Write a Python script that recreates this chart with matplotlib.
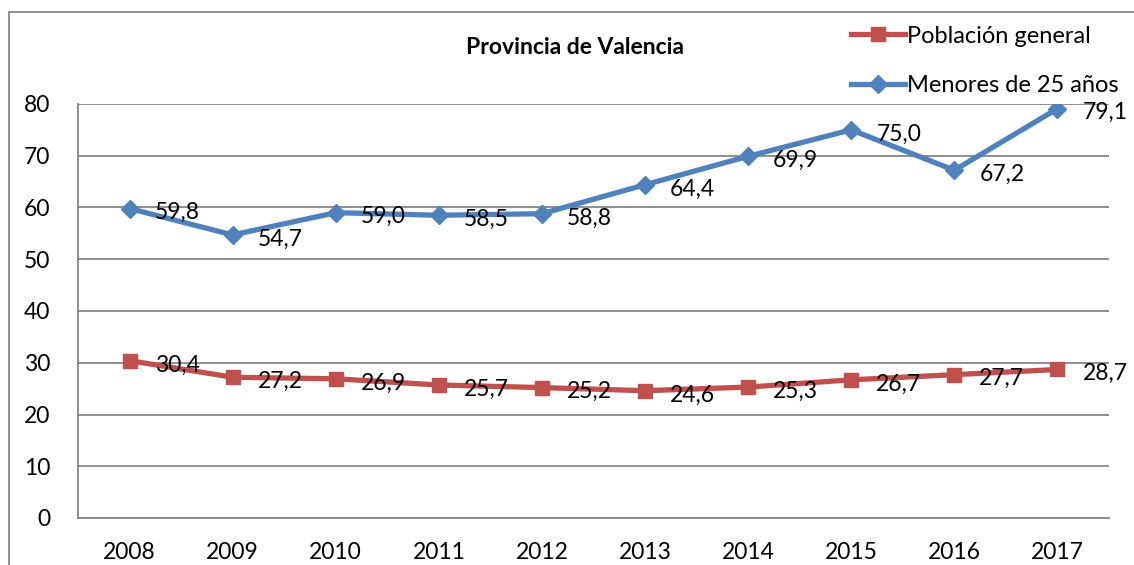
import matplotlib.pyplot as plt
import numpy as np

# Años
years = ["2008", "2009", "2010", "2011", "2012", "2013", "2014", "2015", "2016", "2017"]

# Series
poblacion_general = [30.4, 27.2, 26.9, 25.7, 25.2, 24.6, 25.3, 26.7, 27.7, 28.7]
menores_25 = [59.8, 54.7, 59.0, 58.5, 58.8, 64.4, 69.9, 75.0, 67.2, 79.1]

plt.rcParams['font.family'] = ['Lato', 'DejaVu Sans']

fig = plt.figure(figsize=(11.34, 5.65), dpi=100)
ax = fig.add_axes([78 / 1134, 1 - 518 / 565, (1109 - 78) / 1134, (518 - 104) / 565])

x = np.arange(len(years))
rojo = '#C0504D'
azul = '#4F81BD'

l1, = ax.plot(x, poblacion_general, color=rojo, lw=3.8, marker='s', ms=10,
              label='Población general', zorder=3)
l2, = ax.plot(x, menores_25, color=azul, lw=3.8, marker='D', ms=9,
              label='Menores de 25 años', zorder=3)

# Etiquetas de datos (coma decimal)
for serie in (poblacion_general, menores_25):
    for xi, v in zip(x, serie):
        ax.annotate(f"{v:.1f}".replace('.', ','), (xi, v), xytext=(18, -3),
                    textcoords='offset points', va='center', ha='left', fontsize=16.5)

ax.set_xlim(-0.5, len(years) - 0.5)
ax.set_ylim(0, 80)
ax.set_yticks(np.arange(0, 81, 10))
ax.set_xticks(x)
ax.set_xticklabels(years)
ax.tick_params(length=0, labelsize=16.5, pad=17)
ax.tick_params(axis='y', pad=20)
ax.grid(axis='y', color='#868686', lw=1.3)
ax.set_axisbelow(True)
for s in ['top', 'right']:
    ax.spines[s].set_visible(False)
for s in ['left', 'bottom']:
    ax.spines[s].set_color('#868686')
    ax.spines[s].set_linewidth(1.3)

fig.text(575 / 1134, 1 - 48 / 565, "Provincia de Valencia", ha='center', va='center',
         fontsize=16.5, fontweight='bold')

fig.legend(handles=[l1, l2], loc='upper left', bbox_to_anchor=(846 / 1134, 1 - 21 / 565),
           frameon=False, fontsize=17, handlelength=2.3, labelspacing=1.2,
           handletextpad=0.1, borderaxespad=0, borderpad=0.2)

# Marco del gráfico
fig.patches.append(plt.Rectangle((9 / 1134, -0.05), 1.2, 1 - 12 / 565 + 0.05,
                                 transform=fig.transFigure, fill=False,
                                 edgecolor='#868686', lw=1.3))

plt.savefig("out.png", dpi=100)
